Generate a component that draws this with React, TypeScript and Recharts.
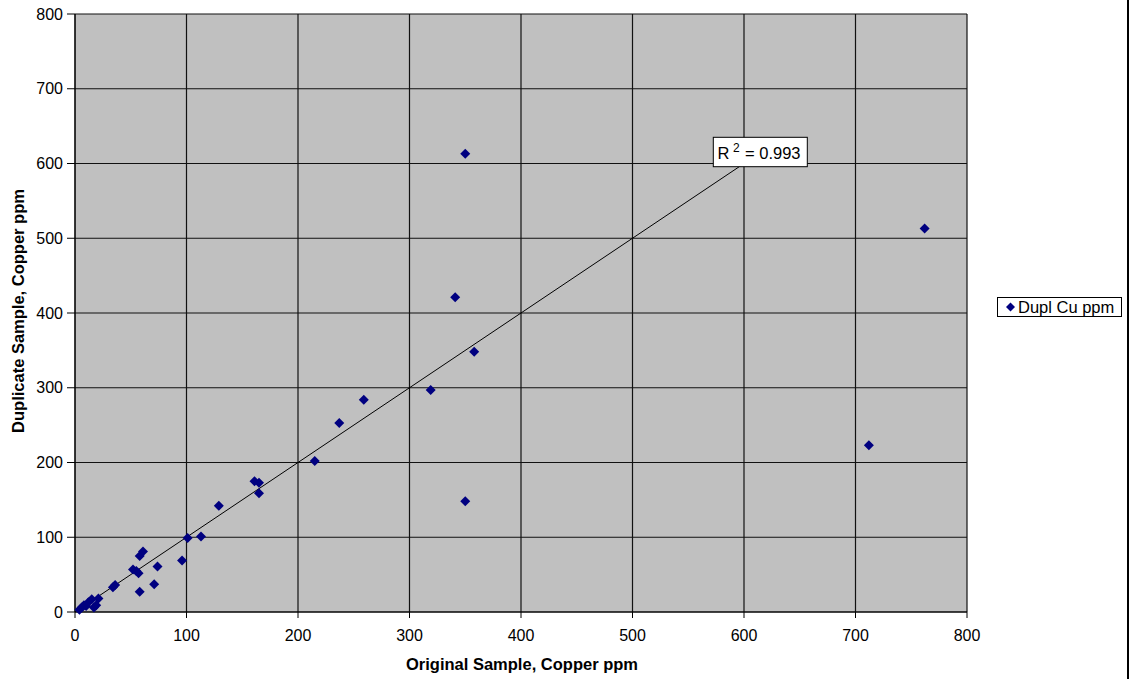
import React from 'react';
import {
  ScatterChart, Scatter, XAxis, YAxis, CartesianGrid, ReferenceLine, ReferenceDot, Legend,
} from 'recharts';

const origCu = [350, 762, 341, 358, 319, 259, 237, 215, 712, 350, 161, 165, 165, 129, 113, 101, 61, 58, 96, 74, 52, 55, 57, 36, 34, 71, 58, 21, 15, 12, 8, 4, 19, 17, 10, 6];
const duplCu = [613, 513, 421, 348, 297, 284, 253, 202, 223, 148, 175, 173, 159, 142, 101, 99, 81, 75, 69, 61, 57, 55, 52, 36, 33, 37, 27, 18, 17, 13, 9, 3, 9, 6, 8, 6];
const axisTicks = [0, 100, 200, 300, 400, 500, 600, 700, 800];
const seriesName = 'Dupl Cu ppm';
const rSquaredText = '= 0.993';
const trendEnd = 600;

const data = origCu.map((x, i) => ({ x, y: duplCu[i] }));

const FONT = '"Liberation Sans", Arial, sans-serif';
const MARKER = '#000080';

const Diamond = (props: any) => {
  const { cx, cy } = props;
  const h = 5;
  return (
    <polygon
      points={`${cx},${cy - h} ${cx + h},${cy} ${cx},${cy + h} ${cx - h},${cy}`}
      fill={MARKER}
    />
  );
};

const RLabel = (props: any) => {
  const { cx, cy } = props;
  return (
    <g>
      <rect x={cx - 30.7} y={cy - 26.2} width={94} height={29.4} fill="#fff" stroke="#000" strokeWidth={1} />
      <text fontFamily={FONT} fontSize={16.5} fill="#000">
        <tspan x={cx - 26.5} y={cy - 5}>R</tspan>
        <tspan x={cx - 11} y={cy - 12} fontSize={12}>2</tspan>
        <tspan x={cx + 1} y={cy - 5}>{rSquaredText}</tspan>
      </text>
    </g>
  );
};

const LegendBox = () => (
  <div
    style={{
      border: '1px solid #000',
      background: '#fff',
      width: 123,
      height: 18,
      boxSizing: 'content-box',
      display: 'flex',
      alignItems: 'center',
      fontFamily: FONT,
      fontSize: 16.5,
      lineHeight: '18px',
      color: '#000',
      whiteSpace: 'nowrap',
    }}
  >
    <svg width={20} height={18} style={{ display: 'block' }}>
      <polygon points="12.5,4.5 17,9 12.5,13.5 8,9" fill={MARKER} />
    </svg>
    <span>{seriesName}</span>
  </div>
);

export default function App() {
  return (
    <div style={{ position: 'absolute', left: 0, top: 0, width: 1131, height: 679, background: '#fff' }}>
      <ScatterChart width={1131} height={679} margin={{ top: 14, right: 164, bottom: 0, left: 0 }}>
        <CartesianGrid fill="#C0C0C0" stroke="#111" strokeWidth={1.2} fillOpacity={1} />
        <XAxis
          type="number"
          dataKey="x"
          domain={[0, 800]}
          ticks={axisTicks}
          interval={0}
          height={67}
          tickSize={6}
          tickMargin={12}
          axisLine={{ stroke: '#000' }}
          tickLine={{ stroke: '#000' }}
          tick={{ fontFamily: FONT, fontSize: 16, fill: '#000' }}
          label={{
            content: () => (
              <text x={522} y={669.5} textAnchor="middle" fontFamily={FONT} fontSize={16.5} fontWeight="bold" fill="#000">
                Original Sample, Copper ppm
              </text>
            ),
          }}
        />
        <YAxis
          type="number"
          dataKey="y"
          domain={[0, 800]}
          ticks={axisTicks}
          interval={0}
          width={75}
          tickSize={8}
          tickMargin={4}
          axisLine={{ stroke: '#000' }}
          tickLine={{ stroke: '#000' }}
          tick={{ fontFamily: FONT, fontSize: 16, fill: '#000' }}
          label={{
            content: () => (
              <text
                x={24}
                y={311}
                transform="rotate(-90 24 311)"
                textAnchor="middle"
                fontFamily={FONT}
                fontSize={16.5}
                fontWeight="bold"
                fill="#000"
              >
                Duplicate Sample, Copper ppm
              </text>
            ),
          }}
        />
        <ReferenceLine
          segment={[{ x: 0, y: 0 }, { x: trendEnd, y: trendEnd }]}
          stroke="#000"
          strokeWidth={1}
          ifOverflow="visible"
        />
        <Scatter name={seriesName} data={data} fill={MARKER} shape={Diamond} isAnimationActive={false} />
        <ReferenceDot x={trendEnd} y={trendEnd} r={0} shape={RLabel} ifOverflow="visible" />
        <Legend
          layout="horizontal"
          verticalAlign="middle"
          align="center"
          content={() => <LegendBox />}
          wrapperStyle={{ left: 997, top: 297, width: 125, height: 20 }}
        />
      </ScatterChart>
      <div style={{ position: 'absolute', left: 1127, top: 0, width: 2, height: 679, background: '#000' }} />
    </div>
  );
}
